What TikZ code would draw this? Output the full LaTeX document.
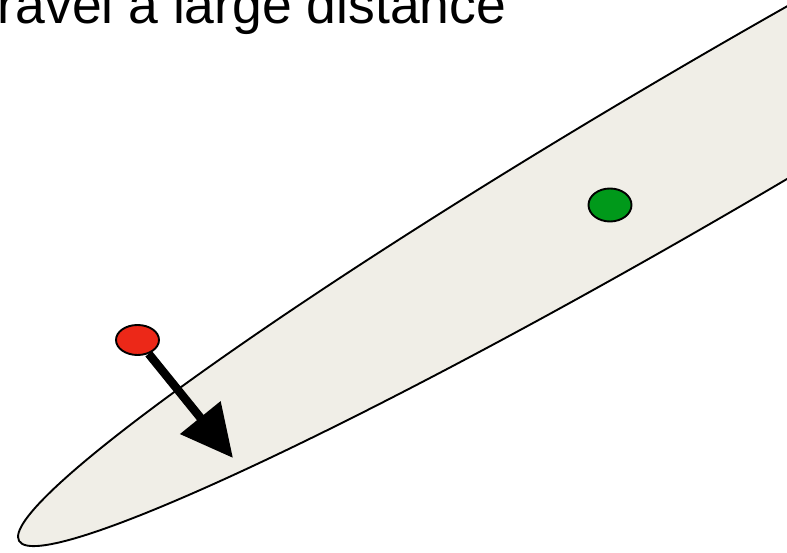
\documentclass[tikz,border=0pt]{standalone}
\usepackage{fontspec}
\setmainfont{Liberation Sans}
\usetikzlibrary{arrows.meta,shapes.geometric}
\definecolor{blobfill}{RGB}{240,238,231}
\definecolor{dotred}{RGB}{236,40,24}
\definecolor{dotgreen}{RGB}{0,153,26}
\tikzset{
  outline/.style={draw=black, line width=1.9pt},
  dotnode/.style={ellipse, outline, inner sep=0pt},
  movearrow/.style={draw=black, line width=8.5pt, -{Triangle[length=52pt,width=50pt]}}
}
\begin{document}
\begin{tikzpicture}[x=1pt,y=1pt]
\useasboundingbox (0,0) rectangle (787,553);
\clip (0,0) rectangle (787,553);
\fill[white] (0,0) rectangle (787,553);
% elongated ellipse
\draw[outline, fill=blobfill] (718.4,420.7) ellipse [x radius=810pt, y radius=75pt, rotate=30.3];
% title text (cut at the top and left, as in the reference)
\node[anchor=base west, inner sep=0pt, font=\fontsize{53.5}{60}\selectfont] (title) at (-2.5,529) {ravel a large distance};
% dots
\node[dotnode, fill=dotred, minimum width=43pt, minimum height=30pt] (red) at (137.5,213) {};
\node[dotnode, fill=dotgreen, minimum width=43pt, minimum height=33pt] (green) at (610,348) {};
\coordinate (tip) at (233,95);
\draw[movearrow] (red) -- (tip);
\end{tikzpicture}
\end{document}
